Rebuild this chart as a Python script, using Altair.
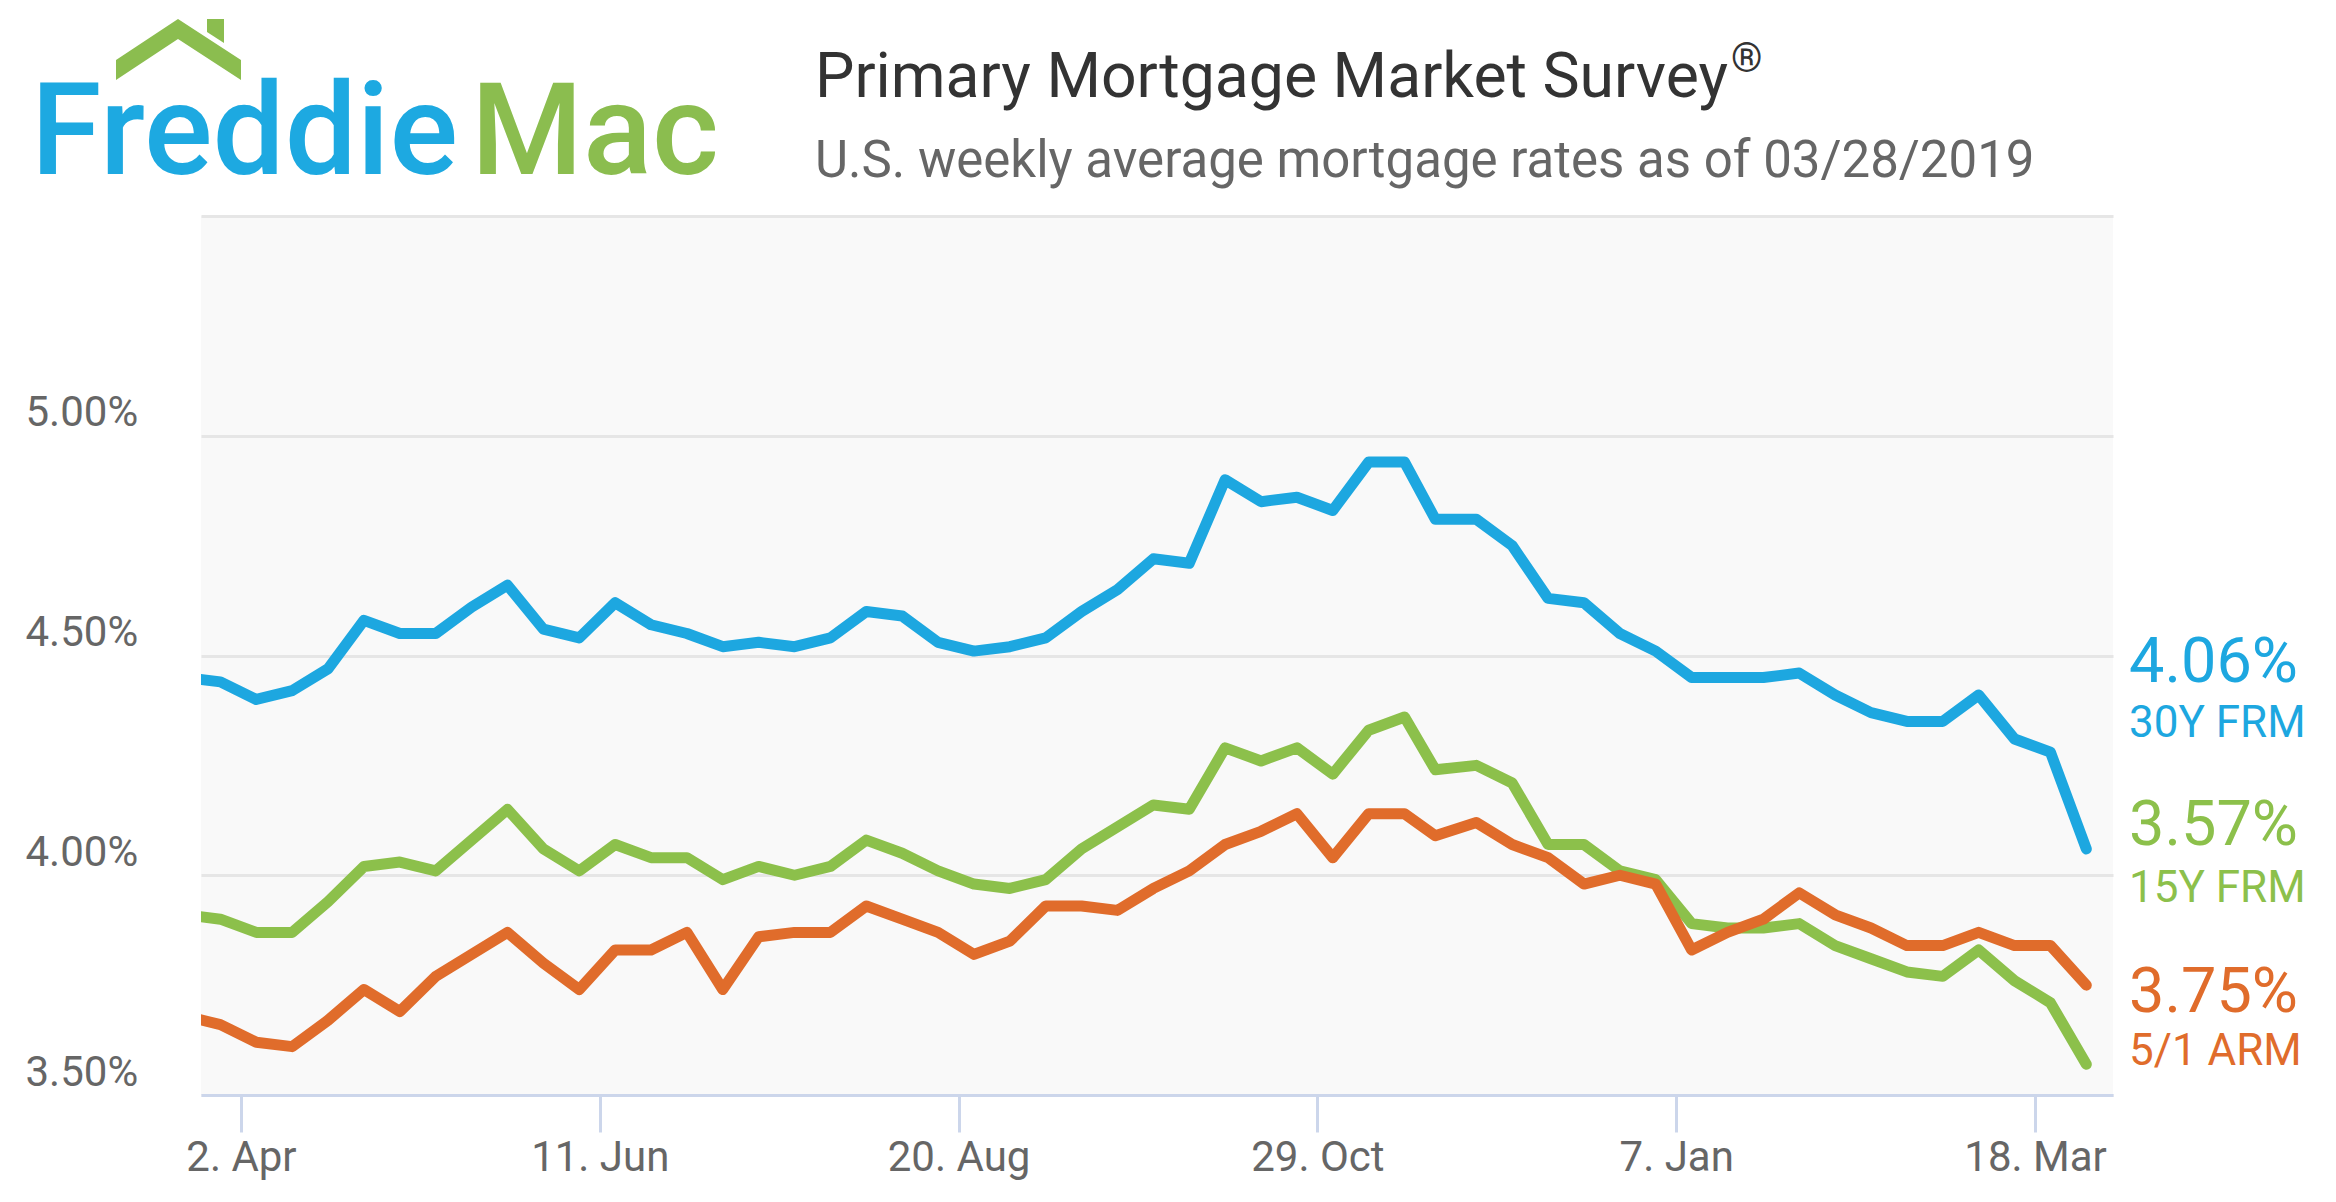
import altair as alt
import pandas as pd

dates = [
    "2018-03-22", "2018-03-29", "2018-04-05", "2018-04-12", "2018-04-19", "2018-04-26",
    "2018-05-03", "2018-05-10", "2018-05-17", "2018-05-24", "2018-05-31", "2018-06-07",
    "2018-06-14", "2018-06-21", "2018-06-28", "2018-07-05", "2018-07-12", "2018-07-19",
    "2018-07-26", "2018-08-02", "2018-08-09", "2018-08-16", "2018-08-23", "2018-08-30",
    "2018-09-06", "2018-09-13", "2018-09-20", "2018-09-27", "2018-10-04", "2018-10-11",
    "2018-10-18", "2018-10-25", "2018-11-01", "2018-11-08", "2018-11-15", "2018-11-21",
    "2018-11-29", "2018-12-06", "2018-12-13", "2018-12-20", "2018-12-27", "2019-01-03",
    "2019-01-10", "2019-01-17", "2019-01-24", "2019-01-31", "2019-02-07", "2019-02-14",
    "2019-02-21", "2019-02-28", "2019-03-07", "2019-03-14", "2019-03-21", "2019-03-28",
]

frm30 = [
    4.45, 4.44, 4.40, 4.42, 4.47, 4.58, 4.55, 4.55, 4.61, 4.66, 4.56, 4.54,
    4.62, 4.57, 4.55, 4.52, 4.53, 4.52, 4.54, 4.60, 4.59, 4.53, 4.51, 4.52,
    4.54, 4.60, 4.65, 4.72, 4.71, 4.90, 4.85, 4.86, 4.83, 4.94, 4.94, 4.81,
    4.81, 4.75, 4.63, 4.62, 4.55, 4.51, 4.45, 4.45, 4.45, 4.46, 4.41, 4.37,
    4.35, 4.35, 4.41, 4.31, 4.28, 4.06,
]
frm15 = [
    3.91, 3.90, 3.87, 3.87, 3.94, 4.02, 4.03, 4.01, 4.08, 4.15, 4.06, 4.01,
    4.07, 4.04, 4.04, 3.99, 4.02, 4.00, 4.02, 4.08, 4.05, 4.01, 3.98, 3.97,
    3.99, 4.06, 4.11, 4.16, 4.15, 4.29, 4.26, 4.29, 4.23, 4.33, 4.36, 4.24,
    4.25, 4.21, 4.07, 4.07, 4.01, 3.99, 3.89, 3.88, 3.88, 3.89, 3.84, 3.81,
    3.78, 3.77, 3.83, 3.76, 3.71, 3.57,
]
arm51 = [
    3.68, 3.66, 3.62, 3.61, 3.67, 3.74, 3.69, 3.77, 3.82, 3.87, 3.80, 3.74,
    3.83, 3.83, 3.87, 3.74, 3.86, 3.87, 3.87, 3.93, 3.90, 3.87, 3.82, 3.85,
    3.93, 3.93, 3.92, 3.97, 4.01, 4.07, 4.10, 4.14, 4.04, 4.14, 4.14, 4.09,
    4.12, 4.07, 4.04, 3.98, 4.00, 3.98, 3.83, 3.87, 3.90, 3.96, 3.91, 3.88,
    3.84, 3.84, 3.87, 3.84, 3.84, 3.75,
]

series_names = ["30Y FRM", "15Y FRM", "5/1 ARM"]
series_values = [frm30, frm15, arm51]
series_colors = ["#1DA7E0", "#8CC04B", "#E06C2B"]

y_ticks = [3.5, 4.0, 4.5, 5.0, 5.5]
x_ticks = ["2018-04-02", "2018-06-11", "2018-08-20", "2018-10-29", "2019-01-07", "2019-03-18"]

title_text = "Primary Mortgage Market Survey"
subtitle_text = "U.S. weekly average mortgage rates as of 03/28/2019"

W, H = 1912, 879
FONT = "Roboto"

rows = []
for name, vals in zip(series_names, series_values):
    for d, v in zip(dates, vals):
        rows.append({"date": d, "rate": v, "series": name})
df = pd.DataFrame(rows)

x_tick_values = [
    alt.DateTime(year=int(s[:4]), month=int(s[5:7]), date=int(s[8:10]), utc=True) for s in x_ticks
]

x_enc = alt.X(
    "date:T",
    scale=alt.Scale(
        type="utc",
        domain=[
            alt.DateTime(year=2018, month=3, date=25, hours=5, utc=True),
            alt.DateTime(year=2019, month=4, date=2, hours=5, utc=True),
        ],
    ),
    axis=alt.Axis(
        values=x_tick_values,
        labelExpr="utcFormat(datum.value, '%-d. %b')",
        title=None,
        grid=False,
        domain=True,
        domainColor="#ccd6eb",
        domainWidth=3,
        ticks=True,
        tickColor="#ccd6eb",
        tickWidth=3,
        tickSize=37,
        labelPadding=38,
        labelBaseline="alphabetic",
        labelFont=FONT,
        labelFontSize=42,
        labelColor="#666666",
    ),
)
y_enc = alt.Y(
    "rate:Q",
    scale=alt.Scale(domain=[3.5, 5.5], nice=False, zero=False),
    axis=alt.Axis(
        values=y_ticks,
        labelExpr="datum.value > 5.25 ? '' : format(datum.value, '.2f') + '%'",
        title=None,
        grid=True,
        gridColor="#e6e6e6",
        gridWidth=3,
        domain=False,
        ticks=False,
        labelAlign="left",
        labelBaseline="alphabetic",
        labelPadding=176,
        labelOffset=-10,
        labelFont=FONT,
        labelFontSize=42,
        labelColor="#666666",
    ),
)

lines = alt.Chart(df).mark_line(
    clip=True, strokeWidth=11, strokeJoin="round", strokeCap="round"
).encode(
    x=x_enc,
    y=y_enc,
    color=alt.Color(
        "series:N",
        scale=alt.Scale(domain=series_names, range=series_colors),
        legend=None,
    ),
)

layers = [lines]

# right-hand labels (last value + series name)
value_baselines = [466, 629, 796]
name_baselines = [521, 686, 849]
for name, vals, col, vb, nb in zip(series_names, series_values, series_colors, value_baselines, name_baselines):
    layers.append(
        alt.Chart(pd.DataFrame({"t": [f"{vals[-1]:.2f}%"]})).mark_text(
            align="left", baseline="alphabetic", font=FONT, fontSize=63, color=col
        ).encode(x=alt.value(W + 16), y=alt.value(vb), text="t:N")
    )
    layers.append(
        alt.Chart(pd.DataFrame({"t": [name]})).mark_text(
            align="left", baseline="alphabetic", font=FONT, fontSize=44, color=col
        ).encode(x=alt.value(W + 16), y=alt.value(nb), text="t:N")
    )

# titles
layers.append(
    alt.Chart(pd.DataFrame({"t": [title_text]})).mark_text(
        align="left", baseline="alphabetic", font=FONT, fontSize=62.5, color="#333333"
    ).encode(x=alt.value(614), y=alt.value(-119), text="t:N")
)
layers.append(
    alt.Chart(pd.DataFrame({"t": ["®"]})).mark_text(
        align="left", baseline="alphabetic", font=FONT, fontSize=40, color="#333333"
    ).encode(x=alt.value(1530), y=alt.value(-144), text="t:N")
)
layers.append(
    alt.Chart(pd.DataFrame({"t": [subtitle_text]})).mark_text(
        align="left", baseline="alphabetic", font=FONT, fontSize=51, color="#666666"
    ).encode(x=alt.value(614), y=alt.value(-39), text="t:N")
)

# logo
layers.append(
    alt.Chart(pd.DataFrame({"t": ["Freddie"]})).mark_text(
        align="left", baseline="alphabetic", font=FONT, fontSize=128, fontWeight=500, color="#1DA9E1"
    ).encode(x=alt.value(-170), y=alt.value(-42), text="t:N")
)
layers.append(
    alt.Chart(pd.DataFrame({"t": ["Mac"]})).mark_text(
        align="left", baseline="alphabetic", font=FONT, fontSize=128, fontWeight=500, color="#8BBD4F"
    ).encode(x=alt.value(270), y=alt.value(-42), text="t:N")
)
roof_path = "M-62,41 L0,0 L63,41 L63,61 L0,20 L-62,61 Z"
chimney_path = "M29,0 L46,0 L46,24 L29,13 Z"
for p in [roof_path, chimney_path]:
    layers.append(
        alt.Chart(pd.DataFrame({"t": [1]})).mark_point(
            shape=p, filled=True, size=4, opacity=1, color="#8BBD4F", strokeWidth=0
        ).encode(x=alt.value(-23), y=alt.value(-197))
    )

chart = alt.layer(*layers).properties(
    width=W,
    height=H,
    autosize=alt.AutoSizeParams(type="none"),
    padding={"left": 193, "top": 208, "right": 215, "bottom": 99},
    background="white",
).configure_view(fill="#f9f9f9", stroke=None)

chart.save("out.html", embed_options={"renderer": "svg", "actions": False})
